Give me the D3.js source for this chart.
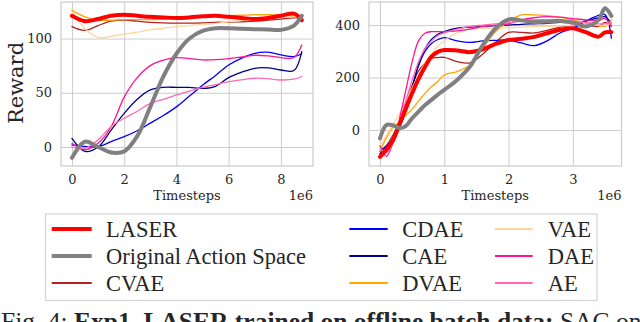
<!DOCTYPE html>
<meta charset="utf-8">
<style>
body { margin: 0; background: #fff; }
text { fill: #262626; }
.tick text { font-family: "DejaVu Serif", serif; font-size: 13px; }
.tick line { stroke: #cccccc; stroke-width: 1; }
.frame { fill: none; stroke: #cccccc; stroke-width: 1.25; }
</style>
<svg width="640" height="322"></svg>
<script src="https://d3js.org/d3.v7.min.js"></script>
<script>

// series, in legend order
var names = ["LASER", "Original Action Space", "CVAE", "CDAE", "CAE", "DVAE", "VAE", "DAE", "AE"];
var colors = ["#ff0000", "#808080", "#b22222", "#0000ff", "#00008b", "#ffa500", "#ffd59a", "#ff1493", "#ff69b4"];
var widths = [4, 4, 1.3, 1.3, 1.3, 1.3, 1.3, 1.3, 1.3];

// left panel: timesteps (1e6) and reward
var xLeft = [0, 0.5, 1, 1.5, 2, 2.5, 3, 3.5, 4, 4.5, 5, 5.5, 6, 6.5, 7, 7.5, 8, 8.5, 8.8];
var left = {
  "LASER":  [121, 116, 118, 121, 122, 121, 120, 119.5, 119, 119.5, 120.5, 121, 120, 119, 118, 119, 121, 123, 117],
  "Original Action Space": [-10, 5, 0, -5, -4, 10, 37, 65, 86, 100, 107, 109.5, 109.5, 109, 108.6, 108.3, 108, 112, 121],
  "CVAE":   [111, 107.5, 112, 116, 117, 116, 115, 114.5, 114.3, 114.3, 114.5, 115, 115, 115.5, 116, 117, 118, 119, 119],
  "CDAE":   [2, 0.5, 0.3, 5, 9.5, 15, 22, 29, 37, 47, 57, 66, 75.6, 82, 86.4, 87.4, 84.9, 83.3, 86],
  "CAE":    [8, -4, 0, 15.6, 31, 44, 52.6, 55, 55, 55, 54, 56, 64, 69, 72.6, 73, 71, 70.5, 88],
  "DVAE":   [126, 120, 117, 117, 117.5, 117.5, 117.5, 118, 118.5, 119, 120, 120.5, 121, 121.5, 122, 122, 121.5, 120.5, 119],
  "VAE":    [125, 109, 101, 102, 104, 106, 108, 109.5, 111, 112, 113, 114, 115.5, 116.5, 117.5, 118.5, 119.5, 120, 120],
  "DAE":    [3.4, -2.5, 3.4, 18.7, 46, 64, 75, 80, 82.4, 81.5, 80.3, 80.5, 81.5, 83, 84.6, 84, 82.4, 82.5, 94],
  "AE":     [0, -1, 6.5, 19, 26.5, 33, 40.3, 44, 48, 51.5, 55, 57.5, 60.2, 62, 63.4, 63, 61.8, 62.5, 65]
};

// right panel
var xRight = [0, 0.1, 0.2, 0.3, 0.4, 0.5, 0.6, 0.7, 0.8, 0.9, 1.0, 1.2, 1.4, 1.6, 1.8, 2.0, 2.2, 2.4, 2.6, 2.8, 3.0, 3.2, 3.4, 3.5, 3.6];
var right = {
  "LASER":  [-102, -75, -40, 20, 80, 140, 195, 240, 280, 298, 305, 303, 297, 308, 328, 343, 348, 355, 369, 382, 388, 373, 356, 372, 373],
  "Original Action Space": [-32, 19, 18, 8, 15, 45, 70, 95, 115, 135, 153, 191, 242, 324, 388, 422, 418, 412, 414, 416, 410, 395, 420, 464, 435],
  "CVAE":   [-90, -60, -20, 30, 100, 170, 225, 255, 273, 276, 277, 261, 256, 290, 335, 372, 372, 370, 380, 392, 400, 400, 395, 410, 395],
  "CDAE":   [-80, -60, -35, 10, 70, 160, 245, 300, 330, 345, 352, 340, 334, 340, 342, 343, 332, 322, 340, 370, 388, 415, 437, 440, 350],
  "CAE":    [-90, -70, -40, 10, 70, 160, 250, 310, 345, 365, 375, 388, 392, 395, 398, 400, 403, 405, 407, 410, 410, 415, 428, 432, 405],
  "DVAE":   [-80, -30, 10, 30, 55, 80, 110, 140, 165, 185, 210, 223, 248, 312, 375, 413, 439, 439, 436, 430, 420, 408, 398, 395, 420],
  "VAE":    [-60, -20, 20, 60, 110, 160, 210, 255, 290, 320, 340, 370, 385, 388, 388, 390, 392, 395, 395, 397, 400, 402, 400, 398, 405],
  "DAE":    [-60, -100, -50, 40, 150, 260, 340, 369, 375, 375, 375, 378, 385, 395, 400, 405, 420, 428, 432, 430, 425, 420, 418, 425, 395],
  "AE":     [-70, -85, -50, 30, 110, 190, 260, 310, 340, 360, 370, 385, 395, 400, 405, 410, 415, 420, 420, 418, 415, 410, 405, 405, 410]
};

var leftXTicks = [0, 2, 4, 6, 8], leftYTicks = [0, 50, 100];
var rightXTicks = [0, 1, 2, 3], rightYTicks = [0, 200, 400];

// draw order: thin ones first, then LASER, then Original on top
var drawOrder = ["CVAE", "CDAE", "CAE", "DVAE", "VAE", "DAE", "AE", "LASER", "Original Action Space"];

var svg = d3.select("svg");

function panel(id, box, xDomain, yDomain, xs, data, xTicks, yTicks) {
  var x = d3.scaleLinear().domain(xDomain).range([box.x0, box.x1]),
      y = d3.scaleLinear().domain(yDomain).range([box.y1, box.y0]);
  var w = box.x1 - box.x0, h = box.y1 - box.y0;

  svg.append("clipPath").attr("id", id)
    .append("rect").attr("x", box.x0).attr("y", box.y0).attr("width", w).attr("height", h);

  svg.append("g")
      .attr("transform", "translate(0," + box.y1 + ")")
      .call(d3.axisBottom(x).tickValues(xTicks).tickSize(-h).tickPadding(9).tickFormat(d3.format("d")))
      .call(function(g) { g.select(".domain").remove(); });

  svg.append("g")
      .attr("transform", "translate(" + box.x0 + ",0)")
      .call(d3.axisLeft(y).tickValues(yTicks).tickSize(-w).tickPadding(9).tickFormat(d3.format("d")))
      .call(function(g) { g.select(".domain").remove(); });

  svg.selectAll(".tick text").attr("fill", "#262626");

  var line = d3.line()
      .x(function(d, i) { return x(xs[i]); })
      .y(function(d) { return y(d); })
      .curve(d3.curveCatmullRom.alpha(0.5));

  var g = svg.append("g").attr("clip-path", "url(#" + id + ")");
  drawOrder.forEach(function(n) {
    var k = names.indexOf(n);
    g.append("path")
      .attr("d", line(data[n]))
      .attr("fill", "none")
      .attr("stroke", colors[k])
      .attr("stroke-width", widths[k])
      .attr("stroke-linecap", "round")
      .attr("stroke-linejoin", "round");
  });

  svg.append("rect").attr("class", "frame")
    .attr("x", box.x0).attr("y", box.y0).attr("width", w).attr("height", h);

  svg.append("text")
    .attr("x", (box.x0 + box.x1) / 2).attr("y", 200)
    .attr("text-anchor", "middle")
    .style("font-family", "DejaVu Serif").style("font-size", "13px")
    .text("Timesteps");
  svg.append("text")
    .attr("x", box.x1).attr("y", 200)
    .attr("text-anchor", "end")
    .style("font-family", "DejaVu Serif").style("font-size", "13px")
    .text("1e6");
}

panel("clipL", {x0: 61, x1: 313, y0: 2, y1: 166}, [-0.42, 9.23], [-17.5, 133.7], xLeft, left, leftXTicks, leftYTicks);
panel("clipR", {x0: 369, x1: 621.5, y0: 2, y1: 166}, [-0.171, 3.757], [-137, 488], xRight, right, rightXTicks, rightYTicks);

svg.append("text")
  .attr("transform", "translate(23,83) rotate(-90)")
  .attr("text-anchor", "middle")
  .style("font-family", "DejaVu Serif").style("font-size", "21px")
  .text("Reward");

// legend
var legend = svg.append("g");
legend.append("rect")
  .attr("x", 45.5).attr("y", 214).attr("width", 551.5).attr("height", 86.5)
  .attr("fill", "#fff").attr("stroke", "#d4d4d4").attr("stroke-width", 1.2);

var colX = [[51.7, 91.7, 106], [349.3, 387.7, 402.3], [495, 532.7, 547.7]];
var rowY = [229, 256, 283];
names.forEach(function(n, i) {
  var c = colX[Math.floor(i / 3)], yy = rowY[i % 3];
  legend.append("line")
    .attr("x1", c[0]).attr("x2", c[1]).attr("y1", yy).attr("y2", yy)
    .attr("stroke", colors[i]).attr("stroke-width", i < 2 ? 4 : 1.8);
  legend.append("text")
    .attr("x", c[2]).attr("y", yy).attr("dy", "0.36em")
    .style("font-family", "Liberation Serif").style("font-size", "22.5px")
    .text(n);
});

// caption (cut off at the bottom edge, as in the source figure)
var cap = svg.append("text")
  .attr("x", 1).attr("y", 329.5)
  .style("font-family", "Liberation Serif").style("font-size", "25.5px")
  .attr("fill", "#000");
cap.append("tspan").text("Fig. 4: ");
cap.append("tspan").style("font-weight", "bold").text("Exp1. LASER trained on offline batch data:");
cap.append("tspan").text(" SAC on");

</script>
